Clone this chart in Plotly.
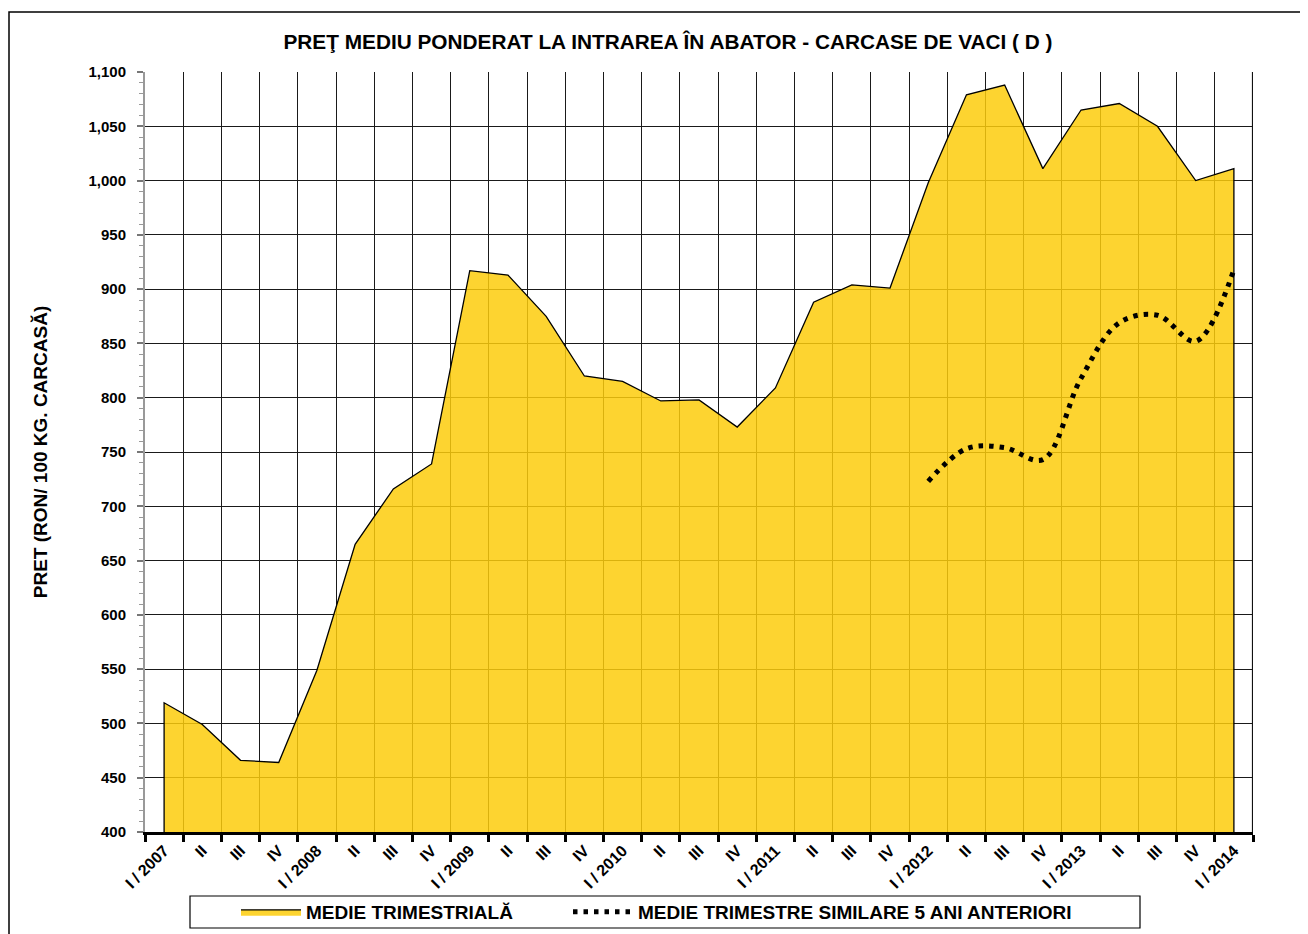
import plotly.graph_objects as go

# ---------------- data ----------------
quarter_labels = [
    "I / 2007", "II", "III", "IV",
    "I / 2008", "II", "III", "IV",
    "I / 2009", "II", "III", "IV",
    "I / 2010", "II", "III", "IV",
    "I / 2011", "II", "III", "IV",
    "I / 2012", "II", "III", "IV",
    "I / 2013", "II", "III", "IV",
    "I / 2014",
]
medie_trimestriala = [
    519, 499, 466, 464,
    549, 665, 716, 739,
    917, 913, 875, 820,
    815, 797, 798, 773,
    809, 888, 904, 901,
    998, 1079, 1088, 1011,
    1065, 1071, 1050, 1000,
    1011,
]
# 5-year similar-quarter average, available from I / 2012 onwards
medie_5_ani_start = 20
medie_5_ani = [723, 753, 754, 743, 818, 869, 876, 852, 918]

title_text = "PREŢ MEDIU PONDERAT LA INTRAREA ÎN ABATOR - CARCASE DE VACI ( D )"
y_title = "PRET (RON/ 100 KG. CARCASĂ)"
legend_names = ["MEDIE TRIMESTRIALĂ", "MEDIE TRIMESTRE SIMILARE 5 ANI ANTERIORI"]
Y_MIN, Y_MAX, Y_STEP = 400, 1100, 50

# ---------------- layout geometry ----------------
# the html page body has an 8px margin, so the figure is drawn 8px smaller
OFF = 8
W, H = 1308 - OFF, 934 - OFF
PLOT_L, PLOT_R, PLOT_T, PLOT_B = 145 - OFF, 1253 - OFF, 72 - OFF, 832 - OFF
L, R, T, B = PLOT_L, W - PLOT_R, PLOT_T, H - PLOT_B
PW, PH = W - L - R, H - T - B

n = len(quarter_labels)
pos = list(range(n))
bounds = [p - 0.5 for p in pos] + [n - 0.5]

FONT = "Liberation Sans, Arial, sans-serif"


def px_x(x):  # reference-page pixel -> paper coordinate
    return (x - OFF - L) / PW


def px_y(y):
    return (H - B - (y - OFF)) / PH


fig = go.Figure()

# area polygon closed down to the axis minimum (gives the vertical outline edges)
area_x = [pos[0]] + pos + [pos[-1]]
area_y = [Y_MIN] + medie_trimestriala + [Y_MIN]
fig.add_trace(go.Scatter(
    x=area_x, y=area_y,
    mode="lines",
    fill="toself",
    fillcolor="rgba(253,204,12,0.85)",
    line=dict(color="black", width=1.3),
    name=legend_names[0],
    legend="legend",
    hoverinfo="skip",
))

sim_x = pos[medie_5_ani_start:medie_5_ani_start + len(medie_5_ani)]
fig.add_trace(go.Scatter(
    x=sim_x, y=medie_5_ani,
    mode="lines",
    line=dict(color="black", width=5, dash="4.5px,6px", shape="spline", smoothing=1.0),
    name=legend_names[1],
    legend="legend2",
))

legend_common = dict(
    orientation="h",
    xanchor="left",
    y=px_y(912), yanchor="middle",
    borderwidth=0,
    bgcolor="rgba(0,0,0,0)",
    font=dict(family=FONT, size=19, weight="bold", color="black"),
    itemwidth=60,
)

fig.update_layout(
    width=W, height=H,
    paper_bgcolor="white",
    plot_bgcolor="white",
    margin=dict(l=L, r=R, t=T, b=B, autoexpand=False),
    font=dict(family=FONT, color="black"),
    title=dict(
        text=title_text,
        x=(668 - OFF) / W, xanchor="center",
        y=1 - (42 - OFF) / H, yanchor="middle",
        font=dict(family=FONT, size=20.8, weight="bold", color="black"),
    ),
    showlegend=True,
    legend=dict(x=px_x(236), **legend_common),
    legend2=dict(x=px_x(568), **legend_common),
    shapes=[
        # outer chart frame
        dict(type="rect", xref="paper", yref="paper",
             x0=px_x(9), x1=px_x(1330), y0=px_y(960), y1=px_y(12),
             line=dict(color="black", width=1.5), fillcolor="rgba(0,0,0,0)", layer="below"),
        # legend box
        dict(type="rect", xref="paper", yref="paper",
             x0=px_x(190), x1=px_x(1140), y0=px_y(928), y1=px_y(896),
             line=dict(color="black", width=1.2), fillcolor="white", layer="below"),
        # right border of the plotting area
        dict(type="line", xref="x", yref="paper",
             x0=bounds[-1], x1=bounds[-1], y0=0, y1=1,
             line=dict(color="#111", width=2.2), layer="above"),
    ],
)

fig.update_xaxes(
    range=[bounds[0], bounds[-1]],
    automargin=False,
    tickmode="array",
    tickvals=pos,
    ticktext=quarter_labels,
    tickangle=-45,
    ticks="",
    showgrid=False,
    zeroline=False,
    showline=True,
    linecolor="black",
    linewidth=3,
    tickfont=dict(family=FONT, size=16, weight="bold", color="black"),
    minor=dict(
        tickmode="array",
        tickvals=bounds,
        ticks="outside",
        ticklen=7,
        tickwidth=2.5,
        tickcolor="black",
        showgrid=True,
        gridcolor="#1a1a1a",
        gridwidth=1.4,
    ),
)

fig.update_yaxes(
    range=[Y_MIN, Y_MAX],
    automargin=False,
    tickmode="linear",
    tick0=Y_MIN,
    dtick=Y_STEP,
    tickformat=",",
    showgrid=True,
    gridcolor="#1a1a1a",
    gridwidth=1.4,
    zeroline=False,
    showline=True,
    linecolor="#999999",
    linewidth=2,
    ticks="outside",
    ticklen=6,
    tickcolor="#777777",
    tickwidth=1.5,
    ticklabelstandoff=8,
    tickfont=dict(family=FONT, size=15, weight="bold", color="black"),
    title=dict(text=y_title, standoff=36,
               font=dict(family=FONT, size=19, weight="bold", color="black")),
    minor=dict(
        dtick=10,
        ticks="outside",
        ticklen=4,
        tickcolor="#999999",
        tickwidth=1.2,
        showgrid=False,
    ),
)

fig.write_html("out.html")
